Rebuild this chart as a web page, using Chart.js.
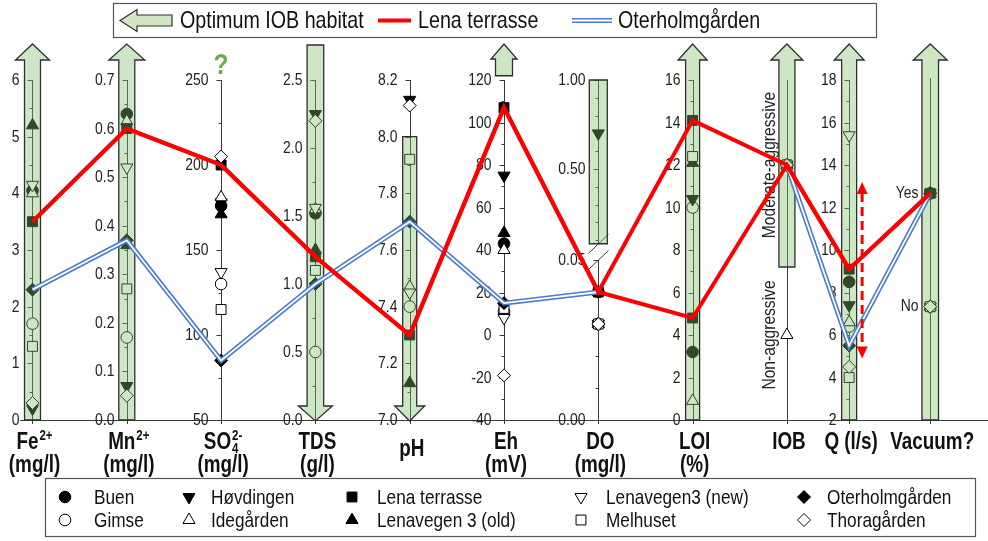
<!DOCTYPE html>
<html>
<head>
<meta charset="utf-8">
<title>Optimum IOB habitat</title>
<script src="https://cdn.jsdelivr.net/npm/chart.js@4.4.1/dist/chart.umd.min.js"></script>
<style>
  html, body { margin: 0; padding: 0; background: #ffffff; }
  #box { width: 988px; height: 541px; }
</style>
</head>
<body>
<div id="box"><canvas id="chart" width="988" height="541"></canvas></div>
<script>
// ---------------------------------------------------------------------------
// Data
// ---------------------------------------------------------------------------
// Parameters on the vertical axes, left to right
const parameters = ['Fe', 'Mn', 'SO4', 'TDS', 'pH', 'Eh', 'DO', 'LOI', 'IOB', 'Q', 'Vacuum'];

const sites = ['Buen', 'Gimse', 'Høvdingen', 'Idegården', 'Lena terrasse',
  'Lenavegen 3 (old)', 'Lenavegen3 (new)', 'Melhuset', 'Oterholmgården', 'Thoragården'];

// Values per site in parameter order.
// IOB: 0 = non-aggressive, 1 = moderate-aggressive. Vacuum: 0 = no, 1 = yes.
// Lena terrasse has two LOI samples.
const buen           = [4.05, 0.63,  176, 1.52, null, 43,   0.04, 3.2,         1, 8.5,  1];
const gimse          = [1.7,  0.17,  130, 0.5,  7.40, 11,   0.03, 10.0,        1, 6.4,  0];
const hovdingen      = [0.2,  0.07,  178, 2.25, 8.13, 75,   0.70, 10.4,        1, 7.4,  1];
const idegarden      = [4.0,  0.615, 181, 1.55, 7.47, 40,   0.03, 0.9,         0, 6.6,  0];
const lenaTerrasse   = [3.5,  0.60,  200, 1.2,  7.30, 107,  0.04, [14.1, 4.8], 1, 9.1,  1];
const lenavegen3Old  = [5.2,  0.36,  171, 1.25, 7.13, 48,   0.04, 12.1,        1, null, 1];
const lenavegen3New  = [4.15, 0.52,  137, 1.56, 7.45, 8,    0.03, null,        1, 15.4, 0];
const melhuset       = [1.3,  0.27,  115, 1.1,  7.92, 12.5, 0.03, 12.4,        1, 4.0,  0];
const oterholmgarden = [2.3,  0.37,  85,  1.0,  7.70, 15,   0.04, null,        1, 5.5,  1];
const thoragarden    = [0.3,  0.05,  205, 2.2,  8.11, -19,  0.03, null,        1, 4.5,  0];

// Spread of discharge (l/s)
const qRange = [4.9, 13.2];

// Tick labels of each axis
const feTicks  = ['0', '1', '2', '3', '4', '5', '6'];
const mnTicks  = ['0.0', '0.1', '0.2', '0.3', '0.4', '0.5', '0.6', '0.7'];
const so4Ticks = ['50', '100', '150', '200', '250'];
const tdsTicks = ['0.0', '0.5', '1.0', '1.5', '2.0', '2.5'];
const phTicks  = ['7.0', '7.2', '7.4', '7.6', '7.8', '8.0', '8.2'];
const ehTicks  = ['-40', '-20', '0', '20', '40', '60', '80', '100', '120'];
const doLowTicks  = ['0.00', '0.05'];
const doHighTicks = ['0.50', '1.00'];
const loiTicks = ['0', '2', '4', '6', '8', '10', '12', '14', '16'];
const qTicks   = ['2', '4', '6', '8', '10', '12', '14', '16', '18'];
const iobClasses    = ['Non-aggressive', 'Moderate-aggressive'];
const vacuumClasses = ['No', 'Yes'];

// Optimum IOB habitat on each axis: preferred direction and where it starts
const habitat = [
  { dir: 'up',   from: 0 },              // Fe
  { dir: 'up',   from: 0 },              // Mn
  null,                                  // SO4: unknown
  { dir: 'down', from: null },           // TDS: whole range, lower is better
  { dir: 'down', from: 8.0 },            // pH
  { dir: 'up',   from: 122 },            // Eh: above the plotted range
  { dir: 'box',  from: 0.08, to: 1.0 },  // DO
  { dir: 'up',   from: 0 },              // LOI
  { dir: 'up',   from: 0.4 },            // IOB
  { dir: 'up',   from: 2 },              // Q
  { dir: 'up',   from: -1 },             // Vacuum
];

// ---------------------------------------------------------------------------
// Layout and styling
// ---------------------------------------------------------------------------
const FONT = "'Liberation Sans', Arial, sans-serif";
const SQUEEZE = 0.82;          // horizontal condensing of all text
const DO_AXIS = 6, DO_BREAK = 0.05;
const axisSlots = [0, 1, 2, 3, 4, 5, 6, 7, 8, 8.66, 9.52];
// [shaft half width, head half width] of the habitat arrows
const arrowSize = [[8, 17], [8, 18], null, [8.3, 17], [7, 15], [8.5, 13], [9, 0], [7, 14.5], [8, 16], [7.5, 15], [8.3, 17]];
const ARROW_TIP = 44;
const HABITAT_FILL = 'rgba(122, 190, 104, 0.38)';
const HABITAT_SOLID = '#d1e6c5';
const OUTLINE = '#2e2e2e';

const markerStyles = [
  { style: 'circle',   r: 5.8, rot: 0,   filled: true  },
  { style: 'circle',   r: 5.8, rot: 0,   filled: false },
  { style: 'triangle', r: 7,   rot: 180, filled: true  },
  { style: 'triangle', r: 7,   rot: 0,   filled: false },
  { style: 'rect',     r: 7,   rot: 0,   filled: true  },
  { style: 'triangle', r: 7,   rot: 0,   filled: true  },
  { style: 'triangle', r: 7,   rot: 180, filled: false },
  { style: 'rect',     r: 7,   rot: 0,   filled: false },
  { style: 'rectRot',  r: 6.5, rot: 0,   filled: true  },
  { style: 'rectRot',  r: 6.5, rot: 0,   filled: false },
];

const siteValues = [buen, gimse, hovdingen, idegarden, lenaTerrasse,
  lenavegen3Old, lenavegen3New, melhuset, oterholmgarden, thoragarden];

const numericTicks = { 0: feTicks, 1: mnTicks, 2: so4Ticks, 3: tdsTicks, 4: phTicks, 5: ehTicks, 7: loiTicks, 9: qTicks };

// ---------------------------------------------------------------------------
// Scales: one hidden y scale per parameter (DO split in two around its break)
// ---------------------------------------------------------------------------
function scaleIdFor(a, v) {
  if (a === DO_AXIS) return v > DO_BREAK ? 'yDOhi' : 'yDOlo';
  return 'y' + a;
}

const scales = {
  x: { type: 'linear', display: false, min: -0.3446, max: 10.1325 },
};
Object.keys(numericTicks).forEach(a => {
  const t = numericTicks[a].map(Number);
  scales['y' + a] = { type: 'linear', display: false, min: t[0], max: t[t.length - 1] };
});
scales.yDOhi = { type: 'linear', display: false, min: -0.91, max: 1.0 };
scales.yDOlo = { type: 'linear', display: false, min: 0, max: 0.10625 };
scales.y8  = { type: 'linear', display: false, min: -0.5, max: iobClasses.length - 0.5 };
scales.y10 = { type: 'linear', display: false, min: -1, max: vacuumClasses.length };

// ---------------------------------------------------------------------------
// Marker datasets, grouped by the scale they belong to
// ---------------------------------------------------------------------------
const groups = {};
parameters.forEach((p, a) => {
  siteValues.forEach((vals, s) => {
    const v = vals[a];
    if (v === null || v === undefined) return;
    [].concat(v).forEach(w => {
      const id = scaleIdFor(a, w);
      if (!groups[id]) groups[id] = { pts: [], st: [] };
      groups[id].pts.push({ x: axisSlots[a], y: w });
      groups[id].st.push(markerStyles[s]);
    });
  });
});
const datasets = Object.keys(groups).map(id => {
  const g = groups[id];
  return {
    label: id,
    yAxisID: id,
    xAxisID: 'x',
    data: g.pts,
    showLine: false,
    clip: false,
    pointStyle: g.st.map(m => m.style),
    pointRadius: g.st.map(m => m.r),
    pointHoverRadius: g.st.map(m => m.r),
    pointRotation: g.st.map(m => m.rot),
    pointBackgroundColor: g.st.map(m => (m.filled ? '#000000' : '#ffffff')),
    pointBorderColor: '#000000',
    pointBorderWidth: 1,
  };
});

// ---------------------------------------------------------------------------
// Drawing helpers
// ---------------------------------------------------------------------------
function xPix(chart, a) { return chart.scales.x.getPixelForValue(axisSlots[a]); }
function yPix(chart, a, v) { return chart.scales[scaleIdFor(a, v)].getPixelForValue(v); }
function seg(ctx, x1, y1, x2, y2) { ctx.beginPath(); ctx.moveTo(x1, y1); ctx.lineTo(x2, y2); ctx.stroke(); }
function snap(v) { return Math.round(v) + 0.5; }

// condensed text
function text(ctx, str, x, y, font, align, baseline) {
  ctx.save();
  ctx.font = font;
  ctx.textAlign = align || 'left';
  ctx.textBaseline = baseline || 'alphabetic';
  ctx.translate(x, y);
  ctx.scale(SQUEEZE, 1);
  ctx.fillText(str, 0, 0);
  ctx.restore();
}
function textWidth(ctx, str, font) {
  ctx.save();
  ctx.font = font;
  const w = ctx.measureText(str).width * SQUEEZE;
  ctx.restore();
  return w;
}

const TICK_FONT = '17px ' + FONT;
function tickLabel(ctx, str, x, y) {
  ctx.fillStyle = '#222';
  text(ctx, str, x, y, TICK_FONT, 'right', 'middle');
}

function drawAxes(chart) {
  const ctx = chart.ctx, area = chart.chartArea;
  ctx.save();
  ctx.strokeStyle = '#3a3a3a';
  ctx.lineWidth = 1;
  seg(ctx, 20, snap(area.bottom), chart.width, snap(area.bottom));

  Object.keys(numericTicks).forEach(k => {
    const a = Number(k), labels = numericTicks[k], vals = labels.map(Number);
    const sc = chart.scales['y' + a], x = snap(xPix(chart, a));
    seg(ctx, x, sc.getPixelForValue(vals[vals.length - 1]), x, area.bottom + 4);
    vals.forEach((v, i) => {
      const y = snap(sc.getPixelForValue(v));
      seg(ctx, x - 5, y, x, y);
      if (i < vals.length - 1) {
        const ym = snap(sc.getPixelForValue((v + vals[i + 1]) / 2));
        seg(ctx, x - 3, ym, x, ym);
      }
      tickLabel(ctx, labels[i], x - 13, y);
    });
  });

  // DO: broken axis
  {
    const x = snap(xPix(chart, DO_AXIS));
    const hi = chart.scales.yDOhi, lo = chart.scales.yDOlo;
    const hiLabels = doHighTicks.map(Number), loLabels = doLowTicks.map(Number);
    const boxBottom = hi.getPixelForValue(habitat[DO_AXIS].from);
    const loTop = lo.getPixelForValue(loLabels[loLabels.length - 1]);
    seg(ctx, x, hi.getPixelForValue(hiLabels[hiLabels.length - 1]), x, boxBottom);
    seg(ctx, x, loTop, x, area.bottom + 4);
    for (let i = 1; i <= 10; i++) {
      const y = snap(hi.getPixelForValue(i / 10));
      seg(ctx, x - (i % 5 === 0 ? 5 : 3), y, x, y);
    }
    for (let i = 0; i <= 5; i++) {
      const y = snap(lo.getPixelForValue(i / 100));
      seg(ctx, x - (i % 5 === 0 ? 5 : 3), y, x, y);
    }
    doHighTicks.forEach(t => tickLabel(ctx, t, x - 13, hi.getPixelForValue(Number(t))));
    doLowTicks.forEach(t => tickLabel(ctx, t, x - 13, lo.getPixelForValue(Number(t))));
    seg(ctx, x - 10, boxBottom + 9.5, x + 10, boxBottom - 9.5);
    seg(ctx, x - 10, loTop + 9.5, x + 10, loTop - 9.5);
  }

  // IOB: categorical, vertical class names
  {
    const x = snap(xPix(chart, 8));
    seg(ctx, x, area.top, x, area.bottom + 4);
    ctx.fillStyle = '#222';
    iobClasses.forEach((c, i) => {
      ctx.save();
      ctx.translate(x - 18, chart.scales.y8.getPixelForValue(i));
      ctx.rotate(-Math.PI / 2);
      text(ctx, c, 0, 0, '19px ' + FONT, 'center', 'middle');
      ctx.restore();
    });
  }

  // Vacuum: yes / no
  {
    const x = snap(xPix(chart, 10));
    seg(ctx, x, area.top - 2, x, area.bottom + 4);
    vacuumClasses.forEach((c, i) => tickLabel(ctx, c, x - 12, chart.scales.y10.getPixelForValue(i)));
  }
  ctx.restore();
}

function arrowPath(ctx, x, yTop, yBot, dir, sh, hh, headH) {
  ctx.beginPath();
  if (dir === 'up') {
    ctx.moveTo(x - sh, yBot);
    ctx.lineTo(x - sh, yTop + headH);
    ctx.lineTo(x - hh, yTop + headH);
    ctx.lineTo(x, yTop);
    ctx.lineTo(x + hh, yTop + headH);
    ctx.lineTo(x + sh, yTop + headH);
    ctx.lineTo(x + sh, yBot);
  } else if (dir === 'down') {
    ctx.moveTo(x - sh, yTop);
    ctx.lineTo(x - sh, yBot - headH);
    ctx.lineTo(x - hh, yBot - headH);
    ctx.lineTo(x, yBot);
    ctx.lineTo(x + hh, yBot - headH);
    ctx.lineTo(x + sh, yBot - headH);
    ctx.lineTo(x + sh, yTop);
  } else {
    ctx.rect(x - sh, yTop, 2 * sh, yBot - yTop);
  }
  ctx.closePath();
}

function drawHabitat(chart) {
  const ctx = chart.ctx, area = chart.chartArea;
  ctx.save();
  ctx.fillStyle = HABITAT_FILL;
  ctx.strokeStyle = OUTLINE;
  ctx.lineWidth = 1.3;
  ctx.lineJoin = 'miter';
  habitat.forEach((h, a) => {
    if (!h) return;
    const x = xPix(chart, a), [sh, hh] = arrowSize[a];
    if (h.dir === 'up') {
      const headH = a === 5 ? 15 : 16;
      arrowPath(ctx, x, ARROW_TIP, yPix(chart, a, h.from), 'up', sh, hh, headH);
    } else if (h.dir === 'down') {
      const top = h.from === null ? ARROW_TIP + 1 : yPix(chart, a, h.from);
      arrowPath(ctx, x, top, area.bottom + 1, 'down', sh, hh, 15);
    } else {
      arrowPath(ctx, x, yPix(chart, a, h.to), yPix(chart, a, h.from), 'box', sh, 0, 0);
    }
    ctx.fill();
    ctx.stroke();
  });
  // optimum SO4 not known
  ctx.fillStyle = '#6cae45';
  text(ctx, '?', xPix(chart, 2), area.top - 14, 'bold 30px ' + FONT, 'center', 'middle');
  ctx.restore();
}

function traces(vals) {
  let out = [[]];
  vals.forEach(v => {
    const options = Array.isArray(v) ? v : [v];
    const next = [];
    out.forEach(t => options.forEach(o => next.push(t.concat([o]))));
    out = next;
  });
  return out;
}

function strokeTrace(chart, vals) {
  const ctx = chart.ctx;
  ctx.beginPath();
  let pen = false;
  vals.forEach((v, a) => {
    if (v === null || v === undefined) { pen = false; return; }
    const x = xPix(chart, a), y = yPix(chart, a, v);
    if (pen) ctx.lineTo(x, y); else ctx.moveTo(x, y);
    pen = true;
  });
  ctx.stroke();
}

function drawProfiles(chart) {
  const ctx = chart.ctx;
  ctx.save();
  ctx.lineJoin = 'miter';
  ctx.miterLimit = 4;
  // Oterholmgården: double blue line
  traces(oterholmgarden).forEach(t => {
    ctx.strokeStyle = '#4a7bcf'; ctx.lineWidth = 5; strokeTrace(chart, t);
    ctx.strokeStyle = '#ffffff'; ctx.lineWidth = 1.8; strokeTrace(chart, t);
  });
  // Lena terrasse: red line
  ctx.strokeStyle = '#ff0000';
  ctx.lineWidth = 4;
  traces(lenaTerrasse).forEach(t => strokeTrace(chart, t));

  // discharge spread, dashed double arrow next to the Q axis
  const xq = xPix(chart, 9) + 13;
  const yT = yPix(chart, 9, qRange[1]), yB = yPix(chart, 9, qRange[0]);
  ctx.strokeStyle = '#ff0000';
  ctx.fillStyle = '#ff0000';
  ctx.lineWidth = 3;
  ctx.setLineDash([9, 5]);
  seg(ctx, xq, yT + 11, xq, yB - 11);
  ctx.setLineDash([]);
  ctx.beginPath(); ctx.moveTo(xq, yT); ctx.lineTo(xq - 5.5, yT + 12); ctx.lineTo(xq + 5.5, yT + 12); ctx.closePath(); ctx.fill();
  ctx.beginPath(); ctx.moveTo(xq, yB); ctx.lineTo(xq - 5.5, yB - 12); ctx.lineTo(xq + 5.5, yB - 12); ctx.closePath(); ctx.fill();
  ctx.restore();
}

// Axis titles under the plot
const axisTitles = [
  { main: 'Fe', sup: '2+', unit: '(mg/l)' },
  { main: 'Mn', sup: '2+', unit: '(mg/l)' },
  { main: 'SO', sub: '4', sup: '2-', unit: '(mg/l)' },
  { main: 'TDS', unit: '(g/l)' },
  { main: 'pH', single: true },
  { main: 'Eh', unit: '(mV)' },
  { main: 'DO', unit: '(mg/l)' },
  { main: 'LOI', unit: '(%)' },
  { main: 'IOB' },
  { main: 'Q (l/s)' },
  { main: 'Vacuum?' },
];

function drawTitles(chart) {
  const ctx = chart.ctx;
  ctx.save();
  ctx.fillStyle = '#111';
  const big = 'bold 23px ' + FONT, small = 'bold 14px ' + FONT;
  axisTitles.forEach((t, a) => {
    const cx = xPix(chart, a) + 2;
    const y1 = t.single ? 456 : 449;
    const wMain = textWidth(ctx, t.main, big);
    const wSup = t.sup ? textWidth(ctx, t.sup, small) : 0;
    const wSub = t.sub ? textWidth(ctx, t.sub, small) : 0;
    const total = wMain + Math.max(wSup, wSub) + (t.sup || t.sub ? 1 : 0);
    let x = cx - total / 2;
    text(ctx, t.main, x, y1, big, 'left');
    x += wMain + 1;
    if (t.sup) text(ctx, t.sup, x, y1 - 9, small, 'left');
    if (t.sub) text(ctx, t.sub, x, y1 + 4, small, 'left');
    if (t.unit) text(ctx, t.unit, cx, 472, big, 'center');
  });
  ctx.restore();
}

function drawMarker(ctx, m, x, y) {
  ctx.fillStyle = m.filled ? '#000' : '#fff';
  ctx.strokeStyle = '#000';
  ctx.lineWidth = 1;
  Chart.helpers.drawPoint(ctx, { pointStyle: m.style, radius: m.r, rotation: m.rot, borderWidth: 1 }, x, y);
}

function drawLegends(chart) {
  const ctx = chart.ctx;
  ctx.save();
  // habitat / profile legend
  ctx.fillStyle = '#fff';
  ctx.strokeStyle = '#555';
  ctx.lineWidth = 1.2;
  ctx.fillRect(113.5, 3.5, 763, 34);
  ctx.strokeRect(113.5, 3.5, 763, 34);
  const cy = 20.5;
  ctx.beginPath();
  ctx.moveTo(120, cy);
  ctx.lineTo(137, cy - 11);
  ctx.lineTo(137, cy - 5.5);
  ctx.lineTo(172, cy - 5.5);
  ctx.lineTo(172, cy + 5.5);
  ctx.lineTo(137, cy + 5.5);
  ctx.lineTo(137, cy + 11);
  ctx.closePath();
  ctx.fillStyle = HABITAT_SOLID;
  ctx.fill();
  ctx.strokeStyle = OUTLINE;
  ctx.lineWidth = 1.2;
  ctx.stroke();
  const lf = '24px ' + FONT;
  ctx.fillStyle = '#111';
  text(ctx, 'Optimum IOB habitat', 180, cy + 1, lf, 'left', 'middle');
  ctx.strokeStyle = '#ff0000';
  ctx.lineWidth = 4;
  seg(ctx, 378, cy, 411, cy);
  text(ctx, sites[4], 418, cy + 1, lf, 'left', 'middle');
  ctx.strokeStyle = '#4a7bcf';
  ctx.lineWidth = 5;
  seg(ctx, 572, cy, 612, cy);
  ctx.strokeStyle = '#ffffff';
  ctx.lineWidth = 1.8;
  seg(ctx, 572, cy, 612, cy);
  text(ctx, sites[8], 618, cy + 1, lf, 'left', 'middle');

  // site legend
  ctx.strokeStyle = '#555';
  ctx.lineWidth = 1.2;
  ctx.strokeRect(45.5, 478.5, 930, 58);
  const markerX = [65, 189, 352, 581, 804];
  const textX = [94, 211, 377, 606, 827];
  const rowY = [497, 520];
  sites.forEach((s, i) => {
    const col = Math.floor(i / 2), row = i % 2;
    drawMarker(ctx, markerStyles[i], markerX[col], rowY[row]);
    ctx.fillStyle = '#111';
    text(ctx, s, textX[col], rowY[row] + 1, '21px ' + FONT, 'left', 'middle');
  });
  ctx.restore();
}

const diagram = {
  id: 'diagram',
  beforeDatasetsDraw(chart) { drawAxes(chart); },
  afterDatasetsDraw(chart) {
    drawHabitat(chart);
    drawProfiles(chart);
  },
  afterDraw(chart) {
    drawTitles(chart);
    drawLegends(chart);
  },
};

new Chart(document.getElementById('chart'), {
  type: 'scatter',
  data: { datasets },
  options: {
    responsive: false,
    animation: false,
    devicePixelRatio: 1,
    events: [],
    layout: { autoPadding: false, padding: { top: 80, bottom: 121, left: 0, right: 0 } },
    plugins: { legend: { display: false }, tooltip: { enabled: false } },
    scales,
  },
  plugins: [diagram],
});
</script>
</body>
</html>
